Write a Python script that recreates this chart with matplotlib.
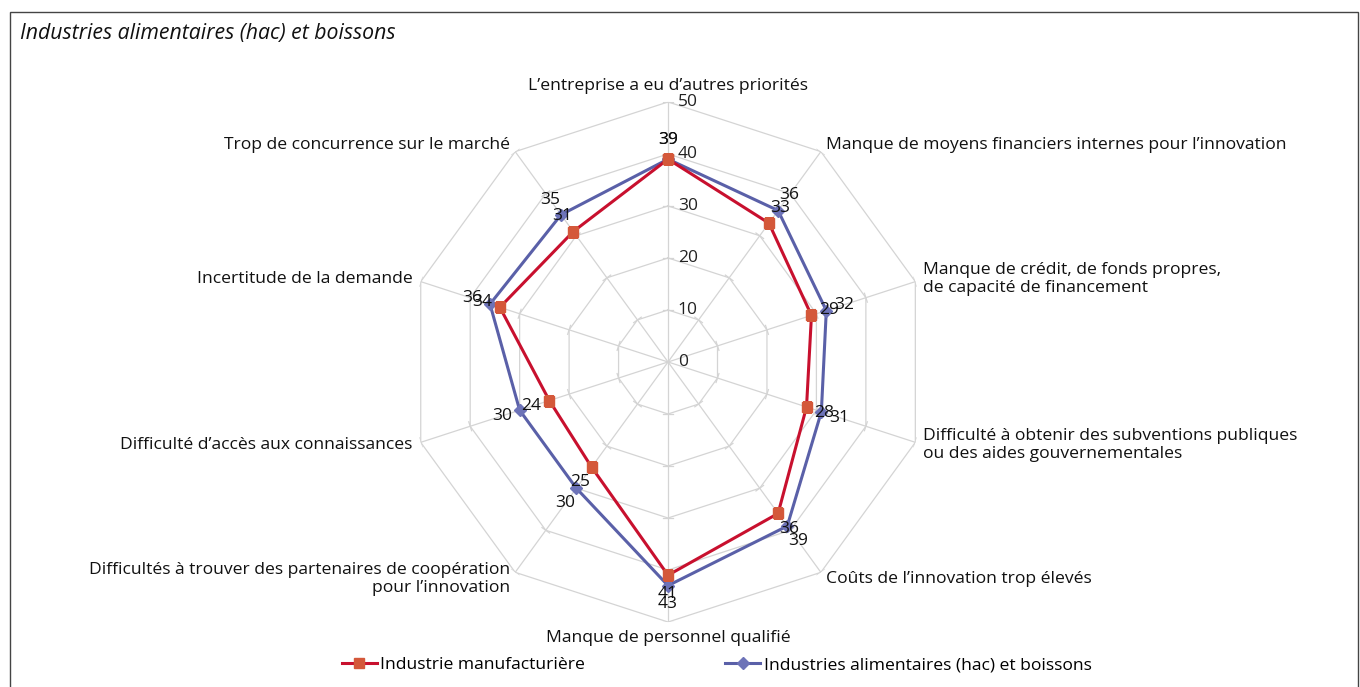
import numpy as np
import matplotlib.pyplot as plt
from matplotlib.patches import Rectangle

categories = [
    "L\u2019entreprise a eu d\u2019autres priorités",
    "Manque de moyens financiers internes pour l\u2019innovation",
    "Manque de crédit, de fonds propres,\nde capacité de financement",
    "Difficulté à obtenir des subventions publiques\nou des aides gouvernementales",
    "Coûts de l\u2019innovation trop élevés",
    "Manque de personnel qualifié",
    "Difficultés à trouver des partenaires de coopération\npour l\u2019innovation",
    "Difficulté d\u2019accès aux connaissances",
    "Incertitude de la demande",
    "Trop de concurrence sur le marché",
]
manuf = [39, 33, 29, 28, 36, 41, 25, 24, 34, 31]
alim = [39, 36, 32, 31, 39, 43, 30, 30, 36, 35]
series_names = ["Industrie manufacturière", "Industries alimentaires (hac) et boissons"]
title = "Industries alimentaires (hac) et boissons"
rings = [0, 10, 20, 30, 40, 50]

plt.rcParams["font.family"] = ["Open Sans", "DejaVu Sans"]

fig = plt.figure(figsize=(13.6, 6.87), dpi=100)
ax = fig.add_axes([0.3, 0.0946, 0.3824, 0.757], projection="polar")
ax.set_theta_zero_location("N")
ax.set_theta_direction(-1)
ax.set_ylim(0, 50)
ax.grid(False)
ax.spines["polar"].set_visible(False)
ax.set_xticks([])
ax.set_yticks([])
ax.patch.set_alpha(0)

n = len(categories)
theta = np.linspace(0, 2 * np.pi, n, endpoint=False)
closed = np.append(theta, theta[0])
grid_col = "#d4d4d4"

# polygon grid + spokes
for r in rings[1:]:
    ax.plot(closed, [r] * (n + 1), color=grid_col, lw=0.9, zorder=1)
for t in theta:
    ax.plot([t, t], [0, 50], color=grid_col, lw=0.9, zorder=1)
    # little tick marks on each spoke
    for r in rings[1:]:
        d = 0.9
        dt = np.arctan(d / r)
        rr = np.hypot(r, d)
        ax.plot([t - dt, t + dt], [rr, rr], color=grid_col, lw=0.9, zorder=1)

for r in rings:
    ax.annotate(str(r), xy=(0, r), xytext=(7, 0), textcoords="offset points",
                ha="left", va="center", fontsize=12.5, color="#222222")

red_line, red_mark = "#c8102e", "#d4583a"
blue_line, blue_mark = "#5a60a8", "#6d73b8"

ax.plot(closed, manuf + manuf[:1], color=red_line, lw=2.2, marker="s",
        markersize=7.5, markerfacecolor=red_mark, markeredgecolor=red_mark,
        zorder=4, label=series_names[0])
ax.plot(closed, alim + alim[:1], color=blue_line, lw=2.2, marker="D",
        markersize=6.5, markerfacecolor=blue_mark, markeredgecolor=blue_mark,
        zorder=3, label=series_names[1])

for vals in (alim, manuf):
    for t, v in zip(theta, vals):
        off = 13.5
        ax.annotate(str(v), xy=(t, v), xytext=(off * np.sin(t), off * np.cos(t)),
                    textcoords="offset points", ha="center", va="center",
                    fontsize=12.5, color="#111111", zorder=5)

for t, lab in zip(theta, categories):
    s, c = np.sin(t), np.cos(t)
    if abs(s) < 0.1:
        ha = "center"
    elif s > 0:
        ha = "left"
    else:
        ha = "right"
    if c > 0.9:
        va = "bottom"
    elif c < -0.9:
        va = "top"
    else:
        va = "center"
    ax.annotate(lab, xy=(t, 50), xytext=(6 * s, 6 * c), textcoords="offset points",
                ha=ha, va=va, fontsize=12.6, color="#111111", linespacing=1.2,
                multialignment="left" if ha == "left" else ("right" if ha == "right" else "center"))

fig.text(20 / 1360, 1 - 33 / 687, title, fontsize=15.3, style="italic",
         ha="left", va="center", color="#111111")

fig.add_artist(Rectangle((10 / 1360, -0.01), 1348 / 1360, 1 - 12 / 687 + 0.01,
                         transform=fig.transFigure, fill=False,
                         edgecolor="#444444", lw=1.0))

fig.legend(loc="center", bbox_to_anchor=(0.527, 1 - 665 / 687), ncol=2,
           frameon=False, fontsize=12.6, handlelength=2.0, columnspacing=8.0,
           handletextpad=0.2)

fig.savefig("out.png", dpi=100)
